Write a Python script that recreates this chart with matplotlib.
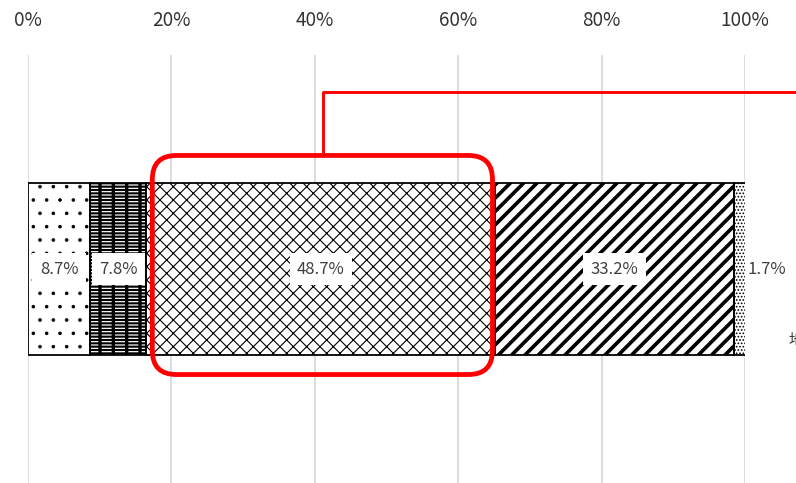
import matplotlib.pyplot as plt
from matplotlib.patches import FancyBboxPatch
from matplotlib.transforms import IdentityTransform

plt.rcParams['font.family'] = ['Noto Sans CJK JP', 'DejaVu Sans']

# data
values = [8.7, 7.8, 48.7, 33.2, 1.7]
labels = ['8.7%', '7.8%', '48.7%', '33.2%', '1.7%']
ticks = [0, 20, 40, 60, 80, 100]
tick_labels = ['0%', '20%', '40%', '60%', '80%', '100%']

# (hatch, face, hatch colour, hatch linewidth) layers per segment
styles = [
    [('.', 'white', 'black', 0.8)],
    [('', 'black', 'black', 1.0), ('----', 'none', 'white', 1.1),
     ('|', 'none', 'black', 3.0)],
    [('xx', 'white', 'black', 1.0)],
    [('//', 'white', 'black', 3.3)],
    [('....', 'white', 'black', 1.0)],
]

DPI = 80
fig = plt.figure(figsize=(796 / DPI, 483 / DPI), dpi=DPI)
ax = fig.add_axes([28 / 796, 0, 717 / 796, 428 / 483])
ax.set_xlim(0, 100)
ax.set_ylim(-0.5, 0.5)
H = 0.402

starts = []
left = 0
for v, layers in zip(values, styles):
    for h, fc, hc, hl in layers:
        with plt.rc_context({'hatch.linewidth': hl, 'hatch.color': hc}):
            b = ax.barh(0, v, left=left, height=H, color=fc, edgecolor=hc,
                        hatch=h, linewidth=0, zorder=2)
            for p in b:
                if hasattr(p, 'set_hatch_linewidth'):
                    p.set_hatch_linewidth(hl)
    ax.barh(0, v, left=left, height=H, fill=False, edgecolor='black',
            linewidth=1.6, zorder=3)
    starts.append(left)
    left += v

# labels
for i, (s, v, t) in enumerate(zip(starts, values, labels)):
    if i == len(values) - 1:
        ax.text(s + v + 0.3, 0, t, ha='left', va='center', fontsize=15,
                color='#404040', zorder=5, clip_on=False)
    else:
        ax.text(s + v / 2, 0, t, ha='center', va='center', fontsize=15,
                color='#404040', zorder=5,
                bbox=dict(boxstyle='square,pad=0.45', fc='white', ec='none'))

ax.set_xticks(ticks)
ax.set_xticklabels(tick_labels)
ax.tick_params(axis='x', top=True, labeltop=True, bottom=False,
               labelbottom=False, length=0, pad=22, labelsize=17,
               labelcolor='#333333')
ax.set_yticks([])
ax.grid(axis='x', color='#d9d9d9', linewidth=1.6, zorder=0)
ax.set_axisbelow(True)
for sp in ax.spines.values():
    sp.set_visible(False)

# red highlight box around the biggest segment
fig.canvas.draw()
big = values.index(max(values))
x0 = ax.transData.transform((starts[big], 0))[0]
x1 = ax.transData.transform((starts[big] + values[big], 0))[0]
y0 = ax.transData.transform((0, -H / 2))[1]
y1 = ax.transData.transform((0, H / 2))[1]
mid = ax.transData.transform((starts[big] + values[big] / 2, 0))[0]
bl, br = x0 + 6, x1 - 3
bb, bt = y0 - 19.5, y1 + 27.5
box = FancyBboxPatch((bl, bb), br - bl, bt - bb,
                     boxstyle='round,pad=0,rounding_size=24',
                     fill=False, edgecolor='#ff0000', linewidth=4.3,
                     transform=IdentityTransform(), zorder=10)
fig.add_artist(box)
fig.add_artist(plt.Line2D([mid + 2, mid + 2, 900], [bt, 391, 391],
                          color='#ff0000', linewidth=2.6,
                          transform=IdentityTransform(), zorder=10))

fig.text(789 / 796, 1 - 340 / 483, '地域', fontsize=14, color='#404040',
         ha='left', va='center')

fig.savefig('out.png', dpi=DPI)
